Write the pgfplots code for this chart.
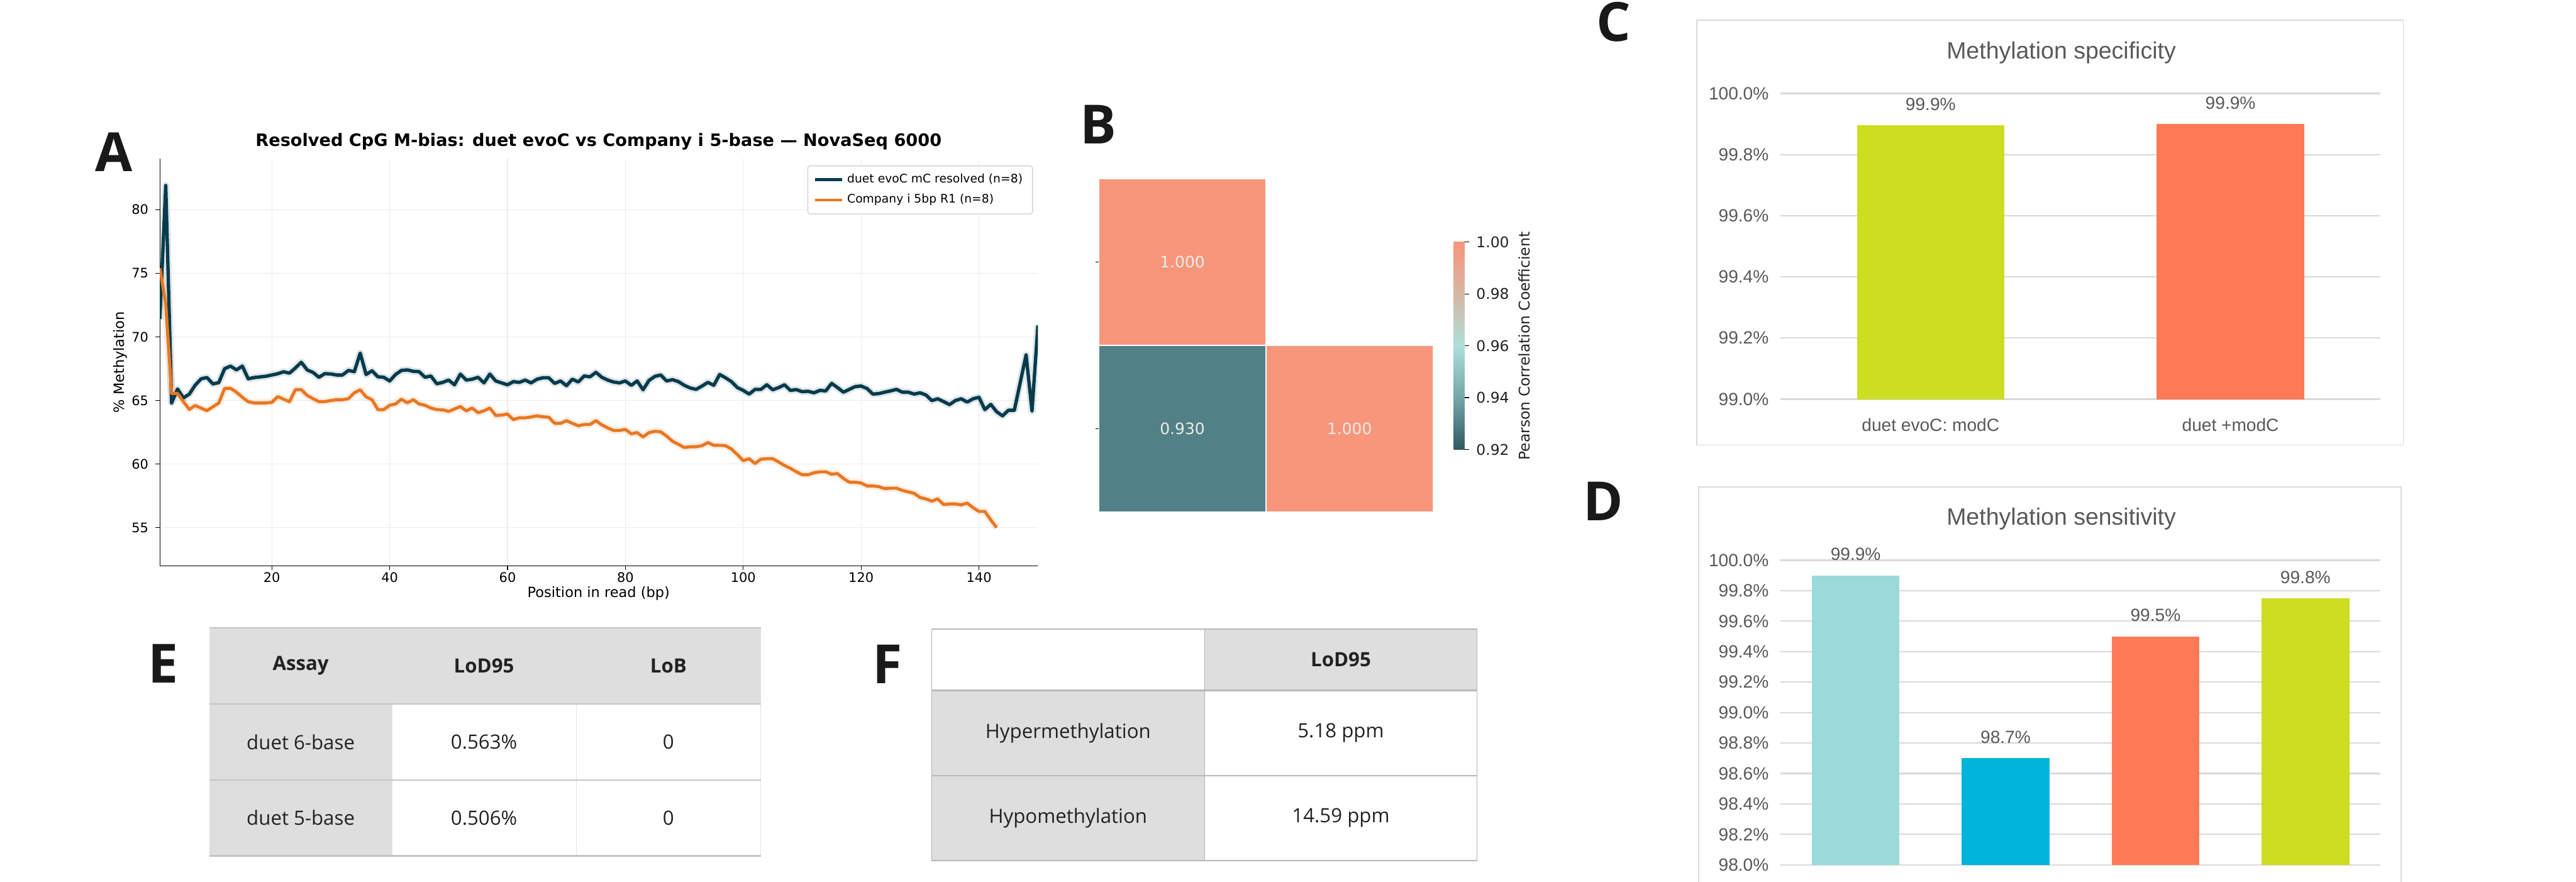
\documentclass[border=0pt]{standalone}
\usepackage{pgfplots}
\usepackage{pgfplotstable}
\pgfplotsset{compat=1.18}
\usepackage{fontspec}
\setmainfont{DejaVu Sans}
\newfontfamily\dejavu{DejaVu Sans}
\newfontfamily\arial{Liberation Sans}
\newfontfamily\osans{Open Sans}

\definecolor{duet}{HTML}{073B4C}
\definecolor{comp}{HTML}{E87722}
\definecolor{gridc}{HTML}{EBEBEB}
\definecolor{hsal}{HTML}{F7967A}
\definecolor{hteal}{HTML}{528087}
\definecolor{c092}{HTML}{2D5A60}
\definecolor{c093}{HTML}{528087}
\definecolor{c094}{HTML}{74A6A9}
\definecolor{c096}{HTML}{ACDFDA}
\definecolor{c098}{HTML}{D6B6A4}
\definecolor{c100}{HTML}{F7967A}
\definecolor{lime}{HTML}{CCDD22}
\definecolor{coral}{HTML}{FF7B57}
\definecolor{lteal}{HTML}{9ADBD9}
\definecolor{cyanb}{HTML}{00B4DC}
\definecolor{txtg}{HTML}{595959}
\definecolor{frameg}{HTML}{D9D9D9}
\definecolor{tblg}{HTML}{DEDEDE}
\definecolor{tline}{HTML}{C4C4C4}
\definecolor{tvline}{HTML}{E2E2E2}
\definecolor{tblack}{HTML}{222222}

\pgfdeclareverticalshading{cbar}{100bp}{color(0bp)=(c092); color(25bp)=(c092); color(31.25bp)=(c093); color(37.5bp)=(c094); color(50bp)=(c096); color(62.5bp)=(c098); color(75bp)=(c100); color(100bp)=(c100)}

\pgfplotstableread{
pos val
1 71.4
2 81.9
3 64.8
4 65.9
5 65.2
6 65.5
7 66.2
8 66.7
9 66.8
10 66.3
11 66.4
12 67.5
13 67.7
14 67.4
15 67.7
16 66.7
17 66.8
18 66.85
19 66.9
20 67.0
21 67.1
22 67.25
23 67.15
24 67.55
25 68.0
26 67.4
27 67.2
28 66.82
29 67.11
30 67.08
31 67.0
32 67.0
33 67.36
34 67.26
35 68.72
36 67.04
37 67.33
38 66.86
39 66.82
40 66.53
41 67.04
42 67.36
43 67.4
44 67.29
45 67.26
46 66.82
47 66.92
48 66.31
49 66.42
50 66.6
51 66.23
52 67.07
53 66.6
54 66.67
55 66.82
56 66.38
57 67.07
58 66.53
59 66.38
60 66.23
61 66.48
62 66.42
63 66.6
64 66.38
65 66.67
66 66.78
67 66.78
68 66.34
69 66.53
70 66.16
71 66.67
72 66.45
73 66.92
74 66.86
75 67.21
76 66.82
77 66.6
78 66.45
79 66.38
80 66.53
81 66.19
82 66.53
83 65.84
84 66.57
85 66.89
86 67.0
87 66.53
88 66.63
89 66.48
90 66.19
91 65.98
92 65.87
93 66.13
94 66.42
95 66.19
96 67.04
97 66.78
98 66.48
99 66.01
100 65.79
101 65.5
102 65.87
103 65.87
104 66.23
105 65.84
106 66.01
107 66.23
108 65.79
109 65.85
110 65.69
111 65.72
112 65.6
113 65.79
114 65.75
115 66.34
116 66.01
117 65.65
118 65.87
119 66.09
120 66.13
121 65.94
122 65.5
123 65.54
124 65.65
125 65.75
126 65.87
127 65.65
128 65.65
129 65.5
130 65.6
131 65.43
132 64.99
133 65.13
134 64.91
135 64.67
136 64.99
137 65.13
138 64.87
139 65.13
140 65.25
141 64.28
142 64.69
143 64.11
144 63.79
145 64.23
146 64.23
147 66.4
148 68.58
149 64.18
150 70.9
}\duettab

\pgfplotstableread{
pos val
1 75.4
2 72.6
3 65.55
4 65.55
5 64.9
6 64.3
7 64.6
8 64.4
9 64.2
10 64.5
11 64.8
12 65.95
13 65.95
14 65.65
15 65.25
16 64.9
17 64.8
18 64.8
19 64.8
20 64.85
21 65.3
22 65.1
23 64.9
24 65.85
25 65.85
26 65.4
27 65.14
28 64.91
29 64.91
30 64.99
31 65.06
32 65.06
33 65.14
34 65.6
35 65.84
36 65.28
37 65.06
38 64.28
39 64.28
40 64.62
41 64.72
42 65.1
43 64.81
44 65.06
45 64.72
46 64.62
47 64.4
48 64.28
49 64.26
50 64.14
51 64.33
52 64.52
53 64.18
54 64.4
55 64.04
56 64.18
57 64.4
58 63.82
59 63.85
60 63.93
61 63.49
62 63.64
63 63.63
64 63.7
65 63.79
66 63.71
67 63.68
68 63.2
69 63.2
70 63.41
71 63.2
72 63.01
73 63.11
74 63.11
75 63.41
76 63.08
77 62.84
78 62.64
79 62.64
80 62.72
81 62.38
82 62.47
83 62.13
84 62.47
85 62.57
86 62.53
87 62.2
88 61.79
89 61.55
90 61.3
91 61.36
92 61.36
93 61.44
94 61.69
95 61.47
96 61.47
97 61.44
98 61.18
99 60.74
100 60.27
101 60.42
102 60.04
103 60.38
104 60.42
105 60.42
106 60.16
107 59.89
108 59.66
109 59.4
110 59.16
111 59.16
112 59.31
113 59.39
114 59.39
115 59.2
116 59.25
117 58.87
118 58.57
119 58.57
120 58.51
121 58.28
122 58.28
123 58.22
124 58.07
125 58.1
126 58.1
127 57.93
128 57.81
129 57.7
130 57.37
131 57.26
132 57.08
133 57.26
134 56.82
135 56.86
136 56.86
137 56.79
138 56.93
139 56.57
140 56.27
141 56.27
142 55.61
143 55.0
}\comptab

\begin{document}
\begin{tikzpicture}
% ---------- panel letters ----------
\tikzset{plet/.style={font=\osans\bfseries\fontsize{27.5}{30}\selectfont, text=black!90, inner sep=0pt}}
\node[plet] at (20.4mm,-27.2mm) {A};
\node[plet] at (196.5mm,-22.3mm) {B};
\node[plet] at (288.7mm,-3.9mm) {C};
\node[plet] at (286.9mm,-89.7mm) {D};
\node[plet] at (29.2mm,-118.7mm) {E};
\node[plet] at (158.8mm,-118.8mm) {F};

% ---------- Panel A ----------
\node[font=\dejavu\bfseries\fontsize{8.7}{10}\selectfont] at (107.1mm,-25.3mm) {Resolved CpG M-bias: duet evoC vs Company i 5-base — NovaSeq 6000};
\node[font=\dejavu\fontsize{7.2}{9}\selectfont] at (107.1mm,-106.2mm) {Position in read (bp)};
\node[rotate=90, font=\dejavu\fontsize{7.2}{9}\selectfont] at (21.5mm,-64.8mm) {\% Methylation};
\begin{axis}[
  at={(28.6mm,-101.2mm)}, anchor=south west,
  width=157.1mm, height=72.8mm, scale only axis,
  xmin=1, xmax=150, ymin=52, ymax=84,
  axis x line*=bottom, axis y line*=left,
  axis line style={line width=0.15mm, black},
  xtick={20,40,60,80,100,120,140}, ytick={55,60,65,70,75,80},
  tick align=outside, major tick length=0.8mm,
  tick style={line width=0.15mm, black},
  grid=major, grid style={gridc, line width=0.12mm},
  ticklabel style={font=\dejavu\fontsize{6.7}{8}\selectfont},
  xticklabel style={yshift=0.8mm},
  /pgf/number format/assume math mode=true,
  legend style={at={(1,1)}, anchor=north east, xshift=-0.9mm, yshift=-1.2mm,
    draw=black!20, rounded corners=0.4mm, fill=white,
    font=\dejavu\fontsize{6}{7}\selectfont, row sep=0.1mm},
  legend cell align=left,
  legend image code/.code={\draw[#1, line width=0.5mm] (0mm,0mm) -- (4.8mm,0mm);},
]
\addplot[duet, opacity=0.13, line width=1.3mm, line join=round, forget plot] table[x=pos,y=val] {\duettab};
\addplot[comp, opacity=0.13, line width=1.3mm, line join=round, forget plot] table[x=pos,y=val] {\comptab};
\addplot[duet, line width=0.6mm, line join=round] table[x=pos,y=val] {\duettab};
\addlegendentry{duet evoC mC resolved (n=8)}
\addplot[comp, line width=0.55mm, line join=round] table[x=pos,y=val] {\comptab};
\addlegendentry{Company i 5bp R1 (n=8)}
\end{axis}

% ---------- Panel B ----------
\begin{axis}[
  at={(196.6mm,-91.6mm)}, anchor=south west,
  width=59.8mm, height=59.6mm, scale only axis,
  xmin=0, xmax=2, ymin=0, ymax=2,
  axis line style={draw=none},
  xtick=\empty, ytick={0.5,1.5}, yticklabels={}, ytick pos=left,
  tick align=outside, major tick length=0.6mm,
  tick style={line width=0.15mm, black},
]
\addplot[fill=hsal, draw=white, line width=0.25mm] coordinates {(0,1) (1,1) (1,2) (0,2)} -- cycle;
\addplot[fill=hteal, draw=white, line width=0.25mm] coordinates {(0,0) (1,0) (1,1) (0,1)} -- cycle;
\addplot[fill=hsal, draw=white, line width=0.25mm] coordinates {(1,0) (2,0) (2,1) (1,1)} -- cycle;
\node[text=white!92!black, font=\dejavu\fontsize{8}{10}\selectfont] at (axis cs:0.5,1.5) {1.000};
\node[text=white!92!black, font=\dejavu\fontsize{8}{10}\selectfont] at (axis cs:0.5,0.5) {0.930};
\node[text=white!92!black, font=\dejavu\fontsize{8}{10}\selectfont] at (axis cs:1.5,0.5) {1.000};
\end{axis}
\begin{axis}[
  at={(260.1mm,-80.4mm)}, anchor=south west,
  width=1.9mm, height=37.1mm, scale only axis,
  xmin=0, xmax=1, ymin=0.92, ymax=1.0,
  axis line style={draw=none},
  xtick=\empty, ytick={0.92,0.94,0.96,0.98,1.00},
  ytick pos=right, yticklabel pos=right,
  tick align=outside, major tick length=0.9mm,
  tick style={line width=0.15mm, black},
  yticklabel style={font=\dejavu\fontsize{7.5}{9}\selectfont, text=tblack,
    /pgf/number format/fixed, /pgf/number format/fixed zerofill, /pgf/number format/precision=2},
  /pgf/number format/assume math mode=true,
]
\addplot[draw=none, shading=cbar] coordinates {(0,0.92) (1,0.92) (1,1) (0,1)} -- cycle;
\end{axis}
\node[rotate=90, font=\dejavu\fontsize{7.5}{9}\selectfont, text=tblack] at (272.7mm,-61.9mm) {Pearson Correlation Coefficient};

% ---------- Panel C ----------
\draw[frameg, line width=0.2mm] (303.6mm,-3.6mm) rectangle (430.0mm,-79.6mm);
\node[font=\arial\fontsize{12}{14}\selectfont, text=txtg] at (368.8mm,-9.4mm) {Methylation specificity};
\begin{axis}[
  at={(318.6mm,-71.4mm)}, anchor=south west,
  width=107.3mm, height=54.7mm, scale only axis,
  xmin=-0.5, xmax=1.5, ymin=99, ymax=100,
  axis line style={draw=none},
  ytick={99.0,99.2,99.4,99.6,99.8,100.0},
  xtick={0,1}, xticklabels={duet evoC: modC, duet +modC},
  major tick length=0pt,
  ymajorgrids, grid style={frameg, line width=0.25mm},
  ticklabel style={font=\arial\fontsize{9}{11}\selectfont, text=txtg},
  yticklabel={\pgfmathprintnumber[fixed,fixed zerofill,precision=1]{\tick}\%},
  yticklabel style={xshift=-0.9mm},
  xticklabel style={yshift=-2.2mm},
  /pgf/number format/assume math mode=true,
  every node near coord/.append style={font=\arial\fontsize{9}{11}\selectfont, text=txtg, yshift=1.4mm},
]
\addplot[ybar, bar width=26.4mm, bar shift=0pt, fill=lime, draw=none,
  nodes near coords, point meta=explicit symbolic] coordinates {(0,99.895) [99.9\%]};
\addplot[ybar, bar width=26.4mm, bar shift=0pt, fill=coral, draw=none,
  nodes near coords, point meta=explicit symbolic] coordinates {(1,99.90) [99.9\%]};
\end{axis}

% ---------- Panel D ----------
\draw[frameg, line width=0.2mm] (303.9mm,-87.1mm) rectangle (429.6mm,-175mm);
\node[font=\arial\fontsize{12}{14}\selectfont, text=txtg] at (368.8mm,-92.8mm) {Methylation sensitivity};
\begin{axis}[
  at={(318.6mm,-154.7mm)}, anchor=south west,
  width=107.3mm, height=54.5mm, scale only axis,
  xmin=-0.5, xmax=3.5, ymin=98, ymax=100,
  axis line style={draw=none},
  ytick={98.0,98.2,98.4,98.6,98.8,99.0,99.2,99.4,99.6,99.8,100.0},
  xtick={0,1,2,3}, xticklabels={duet evoC: modC, duet evoC: 5mC, duet evoC: 5hmC, duet +modC},
  major tick length=0pt,
  ymajorgrids, grid style={frameg, line width=0.25mm},
  ticklabel style={font=\arial\fontsize{9}{11}\selectfont, text=txtg},
  yticklabel={\pgfmathprintnumber[fixed,fixed zerofill,precision=1]{\tick}\%},
  yticklabel style={xshift=-0.9mm},
  xticklabel style={yshift=-2.2mm},
  /pgf/number format/assume math mode=true,
  every node near coord/.append style={font=\arial\fontsize{9}{11}\selectfont, text=txtg, yshift=1.4mm},
]
\addplot[ybar, bar width=15.7mm, bar shift=0pt, fill=lteal, draw=none,
  nodes near coords, point meta=explicit symbolic] coordinates {(0,99.90) [99.9\%]};
\addplot[ybar, bar width=15.7mm, bar shift=0pt, fill=cyanb, draw=none,
  nodes near coords, point meta=explicit symbolic] coordinates {(1,98.70) [98.7\%]};
\addplot[ybar, bar width=15.7mm, bar shift=0pt, fill=coral, draw=none,
  nodes near coords, point meta=explicit symbolic] coordinates {(2,99.50) [99.5\%]};
\addplot[ybar, bar width=15.7mm, bar shift=0pt, fill=lime, draw=none,
  nodes near coords, point meta=explicit symbolic] coordinates {(3,99.75) [99.8\%]};
\end{axis}

% ---------- Table E ----------
\fill[tblg] (37.5mm,-112.3mm) rectangle (136.1mm,-125.9mm);
\fill[tblg] (37.5mm,-125.9mm) rectangle (70.2mm,-153.1mm);
\foreach \xx in {70.2,103.1,136.1} \draw[tvline, line width=0.1mm] (\xx mm,-112.3mm) -- (\xx mm,-153.1mm);
\foreach \yy in {112.3,125.9,139.5,153.1} \draw[tline, line width=0.25mm] (37.5mm,-\yy mm) -- (136.1mm,-\yy mm);
\tikzset{tcell/.style={font=\osans\fontsize{10}{12}\selectfont, text=tblack}}
\node[tcell, font=\osans\bfseries\fontsize{10}{12}\selectfont] at (53.8mm,-119.1mm) {Assay};
\node[tcell, font=\osans\bfseries\fontsize{10}{12}\selectfont] at (86.6mm,-119.1mm) {LoD95};
\node[tcell, font=\osans\bfseries\fontsize{10}{12}\selectfont] at (119.6mm,-119.1mm) {LoB};
\node[tcell] at (53.8mm,-132.7mm) {duet 6-base};
\node[tcell] at (86.6mm,-132.7mm) {0.563\%};
\node[tcell] at (119.6mm,-132.7mm) {0};
\node[tcell] at (53.8mm,-146.3mm) {duet 5-base};
\node[tcell] at (86.6mm,-146.3mm) {0.506\%};
\node[tcell] at (119.6mm,-146.3mm) {0};

% ---------- Table F ----------
\fill[tblg] (215.5mm,-112.5mm) rectangle (264.3mm,-123.5mm);
\fill[tblg] (166.7mm,-123.5mm) rectangle (215.5mm,-153.9mm);
\draw[black!30, line width=0.12mm] (166.7mm,-112.5mm) rectangle (264.3mm,-153.9mm);
\draw[black!30, line width=0.12mm] (215.5mm,-112.5mm) -- (215.5mm,-153.9mm);
\foreach \yy in {112.5,123.5,138.7,153.9} \draw[black!28, line width=0.25mm] (166.7mm,-\yy mm) -- (264.3mm,-\yy mm);
\node[tcell, font=\osans\bfseries\fontsize{10}{12}\selectfont] at (239.9mm,-118.0mm) {LoD95};
\node[tcell] at (191.1mm,-131.1mm) {Hypermethylation};
\node[tcell] at (239.9mm,-131.1mm) {5.18 ppm};
\node[tcell] at (191.1mm,-146.3mm) {Hypomethylation};
\node[tcell] at (239.9mm,-146.3mm) {14.59 ppm};

\pgfresetboundingbox
\path[use as bounding box] (0mm,0mm) rectangle (460.9mm,-157.7mm);
\end{tikzpicture}
\end{document}
